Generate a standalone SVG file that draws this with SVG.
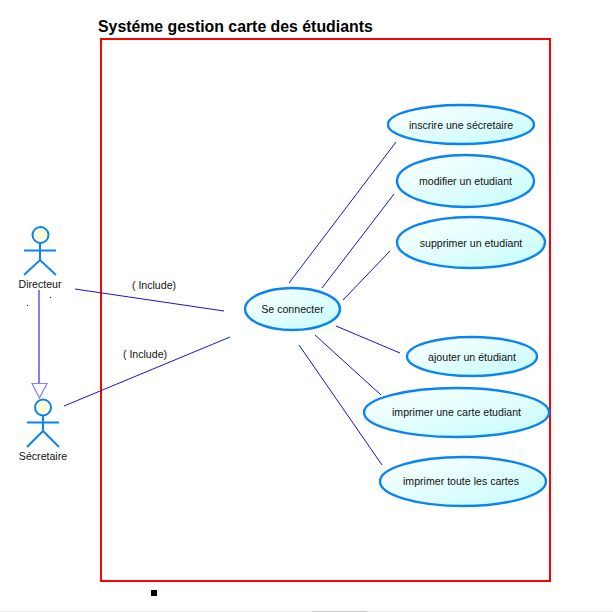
<svg xmlns="http://www.w3.org/2000/svg" width="613" height="612" viewBox="0 0 613 612">
<style>
text{font-family:"Liberation Sans",Arial,sans-serif;fill:#111}
.l{font-size:10.600px;text-anchor:middle}
.u{fill:url(#g);stroke:#0a84f5;stroke-width:2.400}
.a{fill:none;stroke:#0a84f5;stroke-width:2}
.h{fill:#fdfdd8;stroke:#0a84f5;stroke-width:2}
.c{stroke:#1414d8;stroke-width:1;fill:none}
</style>
<defs>
<linearGradient id="g" x1="0" y1="0" x2="1" y2="1"><stop offset="0" stop-color="#fff"/><stop offset="1" stop-color="#c4fcfc"/></linearGradient>
</defs>
<rect width="613" height="612" fill="#fff"/>
<text x="98" y="32" font-size="15.850" font-weight="700" style="fill:#000">Systéme gestion carte des étudiants</text>
<rect id="system" x="101" y="39" width="449" height="542" fill="none" stroke="#f00" stroke-width="2"/>
<g id="connectors">
<path class="c" d="M396 142L289 283M394 194L322 288M390 251L343 300M336 326L400 353M315 335L381 395M299 345L382 465M75 289L224 311M64 406L230 337"/>
<path d="M39 290V383" stroke="#8080ff" stroke-width="2" fill="none"/>
<path d="M32 383.500H47L39.500 398Z" stroke="#8080ff" stroke-width="1.200" fill="#fff"/>
<text class="l" x="154" y="288.500">( Include)</text>
<text class="l" x="145" y="357.500">( Include)</text>
</g>
<g id="directeur">
<circle class="h" cx="40.500" cy="235" r="8"/>
<path class="a" d="M24 250.500H56M40 243V260M24 275L40 260L56 275"/>
<text class="l" x="40" y="287.500">Directeur</text>
</g>
<g id="secretaire">
<circle class="h" cx="43" cy="407.500" r="8"/>
<path class="a" d="M27 422.500H59M43 415V431M27 447L43 431L59 447"/>
<text class="l" x="43" y="459.500">Sécretaire</text>
</g>
<g id="se-connecter"><ellipse class="u" cx="292.500" cy="309" rx="47.500" ry="21"/><text class="l" x="292.500" y="313">Se connecter</text></g>
<g id="inscrire"><ellipse class="u" cx="461" cy="124.500" rx="73" ry="19.500"/><text class="l" x="461" y="128.500">inscrire une sécretaire</text></g>
<g id="modifier"><ellipse class="u" cx="465.500" cy="181" rx="68.500" ry="26"/><text class="l" x="465.500" y="184.500">modifier un etudiant</text></g>
<g id="supprimer"><ellipse class="u" cx="471" cy="242.500" rx="74" ry="25.500"/><text class="l" x="471" y="246.500">supprimer un etudiant</text></g>
<g id="ajouter"><ellipse class="u" cx="472" cy="356.500" rx="65" ry="19.500"/><text class="l" x="472" y="360.500">ajouter un étudiant</text></g>
<g id="imprimer-carte"><ellipse class="u" cx="456.500" cy="412.500" rx="92.500" ry="24.500"/><text class="l" x="456.500" y="415.500">imprimer une carte etudiant</text></g>
<g id="imprimer-toutes"><ellipse class="u" cx="463" cy="481.500" rx="83" ry="24.500"/><text class="l" x="461" y="484.500">imprimer toute les cartes</text></g>
<rect x="27" y="305" width="1" height="1" fill="#114"/>
<rect x="50" y="297" width="1" height="1" fill="#114"/>
<rect x="151" y="590" width="6" height="6" fill="#000"/>
<rect x="0" y="611" width="613" height="1" fill="#ececec"/>
<rect x="312" y="611" width="55" height="1" fill="#c4c4c4"/>
</svg>
